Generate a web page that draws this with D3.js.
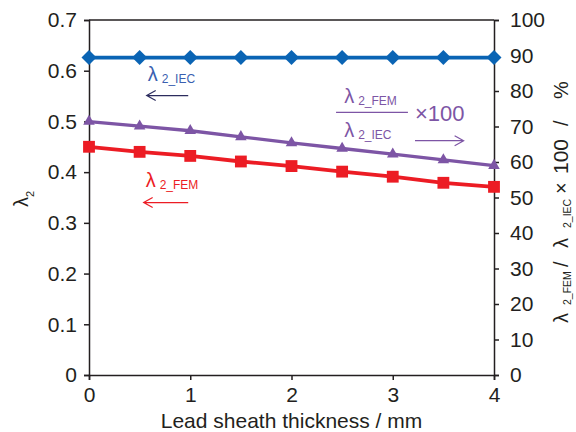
<!DOCTYPE html>
<html>
<head>
<meta charset="utf-8">
<script src="https://cdn.jsdelivr.net/npm/d3@7"></script>
<style>
  body { margin: 0; background: #fff; }
  svg { font-family: "Liberation Sans", Arial, sans-serif; }
  .axis text { font-size: 21px; fill: #231f20; font-family: "Liberation Sans", Arial, sans-serif; }
  .axis path, .axis line { stroke: #231f20; stroke-width: 1.5; }
</style>
</head>
<body>
<div id="vis"></div>
<script>
const WIDTH = 576, HEIGHT = 432;
const MARG = {left: 89, right: 82, top: 20, bottom: 57};

// data
const thickness = [0, 0.5, 1, 1.5, 2, 2.5, 3, 3.5, 4];
const lambdaIEC = [0.626, 0.626, 0.626, 0.626, 0.626, 0.626, 0.626, 0.626, 0.626];
const lambdaFEM = [0.450, 0.440, 0.432, 0.421, 0.412, 0.401, 0.391, 0.379, 0.371];
const ratioPct  = [71.4, 70.1, 68.8, 67.1, 65.4, 63.8, 62.2, 60.6, 59.0];
const xTicks = [0, 1, 2, 3, 4];
const yTicks = [0, 0.1, 0.2, 0.3, 0.4, 0.5, 0.6, 0.7];
const y2Ticks = [0, 10, 20, 30, 40, 50, 60, 70, 80, 90, 100];

const BLUE = "#0a64b4", RED = "#ec1c24", PURPLE = "#7d55a5";

const VIS_W = WIDTH - MARG.left - MARG.right;
const VIS_H = HEIGHT - MARG.top - MARG.bottom;

const svg = d3.select("#vis").append("svg")
  .attr("width", WIDTH).attr("height", HEIGHT);
const g = svg.append("g").attr("transform", `translate(${MARG.left},${MARG.top})`);

const X = d3.scaleLinear().domain([0, 4]).range([0, VIS_W]);
const Y = d3.scaleLinear().domain([0, 0.7]).range([VIS_H, 0]);
const Y2 = d3.scaleLinear().domain([0, 100]).range([VIS_H, 0]);

// frame top
g.append("line").attr("x1", 0).attr("x2", VIS_W).attr("y1", 0).attr("y2", 0)
  .attr("stroke", "#231f20").attr("stroke-width", 1.5);

g.append("g").attr("class", "axis")
  .attr("transform", `translate(0,${VIS_H})`)
  .call(d3.axisBottom(X).tickValues(xTicks).tickFormat(d3.format("d")).tickSizeOuter(0).tickSize(5).tickPadding(7));
g.append("g").attr("class", "axis")
  .call(d3.axisLeft(Y).tickValues(yTicks).tickFormat(d => d === 0 ? "0" : d3.format(".1f")(d)).tickSizeOuter(0).tickSize(5).tickPadding(7));
g.append("g").attr("class", "axis")
  .attr("transform", `translate(${VIS_W},0)`)
  .call(d3.axisRight(Y2).tickValues(y2Ticks).tickSizeOuter(0).tickSize(5).tickPadding(11));

// series
function series(vals, yScale, color, symbol, size, width, rot) {
  const pts = thickness.map((t, i) => [t, vals[i]]);
  g.append("path").datum(pts)
    .attr("fill", "none").attr("stroke", color).attr("stroke-width", width)
    .attr("d", d3.line().x(d => X(d[0])).y(d => yScale(d[1])));
  g.selectAll(null).data(pts).enter().append("path")
    .attr("transform", d => `translate(${X(d[0])},${yScale(d[1])}) rotate(${rot})`)
    .attr("d", d3.symbol().type(symbol).size(size))
    .attr("fill", color);
}
series(lambdaIEC, Y, BLUE, d3.symbolSquare, 112, 3.8, 45);
series(ratioPct, Y2, PURPLE, d3.symbolTriangle, 58, 3.3, 0);
series(lambdaFEM, Y, RED, d3.symbolSquare, 140, 3.8, 0);

// annotation helpers
function lamLabel(x, y, sub, color) {
  const t = g.append("text").attr("x", x).attr("y", y).attr("fill", color);
  t.append("tspan").attr("font-size", 20).text("λ");
  t.append("tspan").attr("font-size", 12).attr("dx", 4).attr("dy", 2).text(sub);
}
function arrow(x1, x2, y, color) {
  const dir = x2 > x1 ? -1 : 1;
  g.append("path")
    .attr("d", `M${x1},${y}H${x2}M${x2 + dir * 9},${y - 5}L${x2},${y}L${x2 + dir * 9},${y + 5}`)
    .attr("fill", "none").attr("stroke", color).attr("stroke-width", 1.2);
}

lamLabel(X(0.58), Y(0.58), "2_IEC", "#3a5fb0");
arrow(X(0.98), X(0.57), Y(0.551), "#2c2c5e");

lamLabel(X(0.56), Y(0.37), "2_FEM", RED);
arrow(X(0.98), X(0.54), Y(0.34), RED);

lamLabel(X(2.52), Y(0.537), "2_FEM", PURPLE);
g.append("line").attr("x1", X(2.44)).attr("x2", X(3.15))
  .attr("y1", Y(0.518)).attr("y2", Y(0.518))
  .attr("stroke", PURPLE).attr("stroke-width", 1.2);
lamLabel(X(2.52), Y(0.469), "2_IEC", PURPLE);
g.append("text").attr("x", X(3.22)).attr("y", Y(0.5)).attr("fill", PURPLE)
  .attr("font-size", 22).text("×100");
arrow(X(3.22), X(3.7), Y(0.462), PURPLE);

// axis titles
svg.append("text").attr("x", MARG.left + VIS_W / 2).attr("y", 428)
  .attr("text-anchor", "middle").attr("font-size", 21).attr("fill", "#231f20")
  .text("Lead sheath thickness / mm");

const yl = svg.append("text").attr("transform", "translate(28,207) rotate(-90)")
  .attr("fill", "#231f20");
yl.append("tspan").attr("x", 0).attr("font-size", 20).text("λ");
yl.append("tspan").attr("x", 10).attr("dy", 6).attr("font-size", 11).text("2");

// right title, pieces placed along the rotated baseline
const yr = svg.append("g").attr("transform", "translate(568,323) rotate(-90)")
  .attr("fill", "#231f20");
const rPieces = [
  {t: "λ", at: 0, fs: 20, dy: 0},
  {t: "2_FEM", at: 18, fs: 10.5, dy: 3},
  {t: "/", at: 56, fs: 20, dy: 0},
  {t: "λ", at: 75, fs: 20, dy: 0},
  {t: "2_IEC", at: 95, fs: 10.5, dy: 3},
  {t: "×", at: 129, fs: 20, dy: 0},
  {t: "100", at: 149, fs: 21, dy: 0},
  {t: "/", at: 197, fs: 20, dy: 0},
  {t: "%", at: 224, fs: 20, dy: 0}
];
yr.selectAll("text").data(rPieces).enter().append("text")
  .attr("x", d => d.at).attr("y", d => d.dy)
  .attr("font-size", d => d.fs).text(d => d.t);
</script>
</body>
</html>
